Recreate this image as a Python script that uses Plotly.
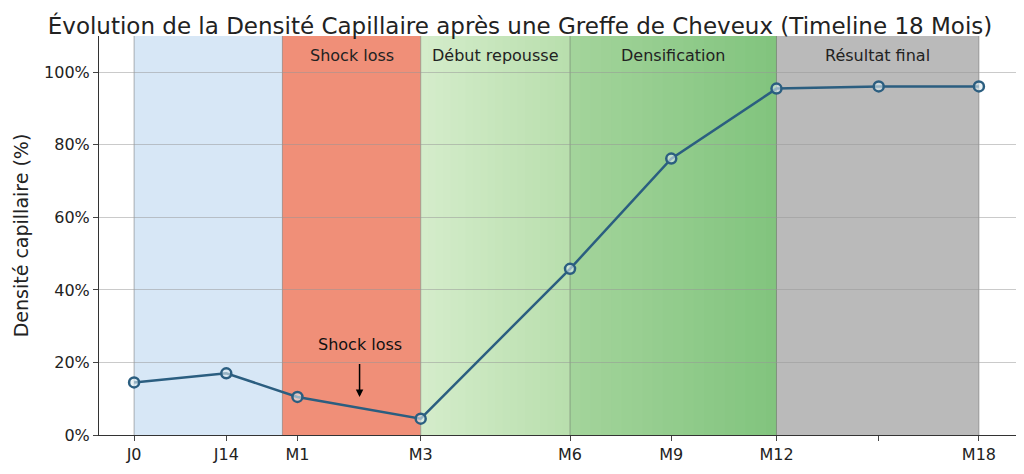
import plotly.graph_objects as go

labels = ["J0", "J14", "M1", "M3", "M6", "M9", "M12", "", "M18"]
xpos = [0, 0.92, 1.63, 2.86, 4.35, 5.36, 6.41, 7.43, 8.43]
density = [14.5, 17, 10.5, 4.5, 45.8, 76.2, 95.5, 96.1, 96.1]

band_names = ["", "Shock loss", "Début repousse", "Densification", "Résultat final"]
band_edges = [0, 1.48, 2.86, 4.35, 6.41, 8.43]
band_colors = ["#d7e7f6", "#f08f78", "#c9e6c0", "#93cc8c", "#bababa"]

fig = go.Figure()
shapes = []
def h(c): return [int(c[k:k+2], 16) for k in (1, 3, 5)]
for i in range(5):
    x0, x1 = band_edges[i], band_edges[i + 1]
    if i in (2, 3):
        c0 = ["#d4ecca", "#a3d49b"][i - 2]
        c1 = ["#b9dfae", "#82c47e"][i - 2]
        n = 20
        a, b = h(c0), h(c1)
        for k in range(n):
            t = k / (n - 1)
            col = "rgb(%d,%d,%d)" % tuple(round(a[j] + (b[j] - a[j]) * t) for j in range(3))
            shapes.append(dict(type="rect", xref="x", yref="y", x0=x0 + (x1 - x0) * k / n,
                               x1=x0 + (x1 - x0) * (k + 1) / n + 0.01, y0=0, y1=110,
                               fillcolor=col, line_width=0, layer="below"))
    else:
        shapes.append(dict(type="rect", xref="x", yref="y", x0=x0, x1=x1, y0=0, y1=110,
                           fillcolor=band_colors[i], line_width=0, layer="below"))
for e in band_edges:
    shapes.append(dict(type="line", xref="x", yref="y", x0=e, x1=e, y0=0, y1=110,
                       line=dict(color="rgba(90,90,90,0.45)", width=1), layer="below"))

fig.add_trace(go.Scatter(x=xpos, y=density, mode="lines+markers",
                         line=dict(color="#2b5e80", width=2.5),
                         marker=dict(size=10, color="rgba(220,235,240,0.6)",
                                     line=dict(color="#2b5e80", width=2.5)),
                         showlegend=False))

anns = []
for i in range(1, 5):
    anns.append(dict(x=(band_edges[i] + band_edges[i + 1]) / 2, y=104.5, text=band_names[i],
                     showarrow=False, font=dict(size=16, color="#222")))
anns.append(dict(x=2.25, y=10.5, ax=2.25, ay=20, axref="x", ayref="y", text="",
                 showarrow=True, arrowhead=2, arrowsize=1, arrowwidth=1.5, arrowcolor="black",
                 standoff=0))
anns.append(dict(x=2.25, y=25, text="Shock loss", showarrow=False,
                 font=dict(size=16, color="#111")))

fig.update_layout(
    width=1024, height=474, paper_bgcolor="white", plot_bgcolor="white",
    margin=dict(l=91, r=16, t=28, b=47),
    title=dict(text="Évolution de la Densité Capillaire après une Greffe de Cheveux (Timeline 18 Mois)",
               x=0.5, xanchor="center", y=0.98, font=dict(size=23, color="#222")),
    font=dict(family="DejaVu Sans", size=16, color="#222"),
    shapes=shapes, annotations=anns,
    xaxis=dict(range=[-0.35, 8.8], tickvals=xpos, ticktext=labels, showgrid=False,
               showline=True, linecolor="#333", ticks="outside", ticklen=5, zeroline=False),
    yaxis=dict(range=[0, 110], tickvals=[0, 20, 40, 60, 80, 100],
               ticktext=["0%", "20%", "40%", "60%", "80%", "100%"],
               title=dict(text="Densité capillaire (%)", standoff=10),
               showgrid=True, gridcolor="rgba(150,150,150,0.5)", showline=True,
               linecolor="#333", ticks="outside", ticklen=5, zeroline=False),
)
fig.write_html("out.html")
